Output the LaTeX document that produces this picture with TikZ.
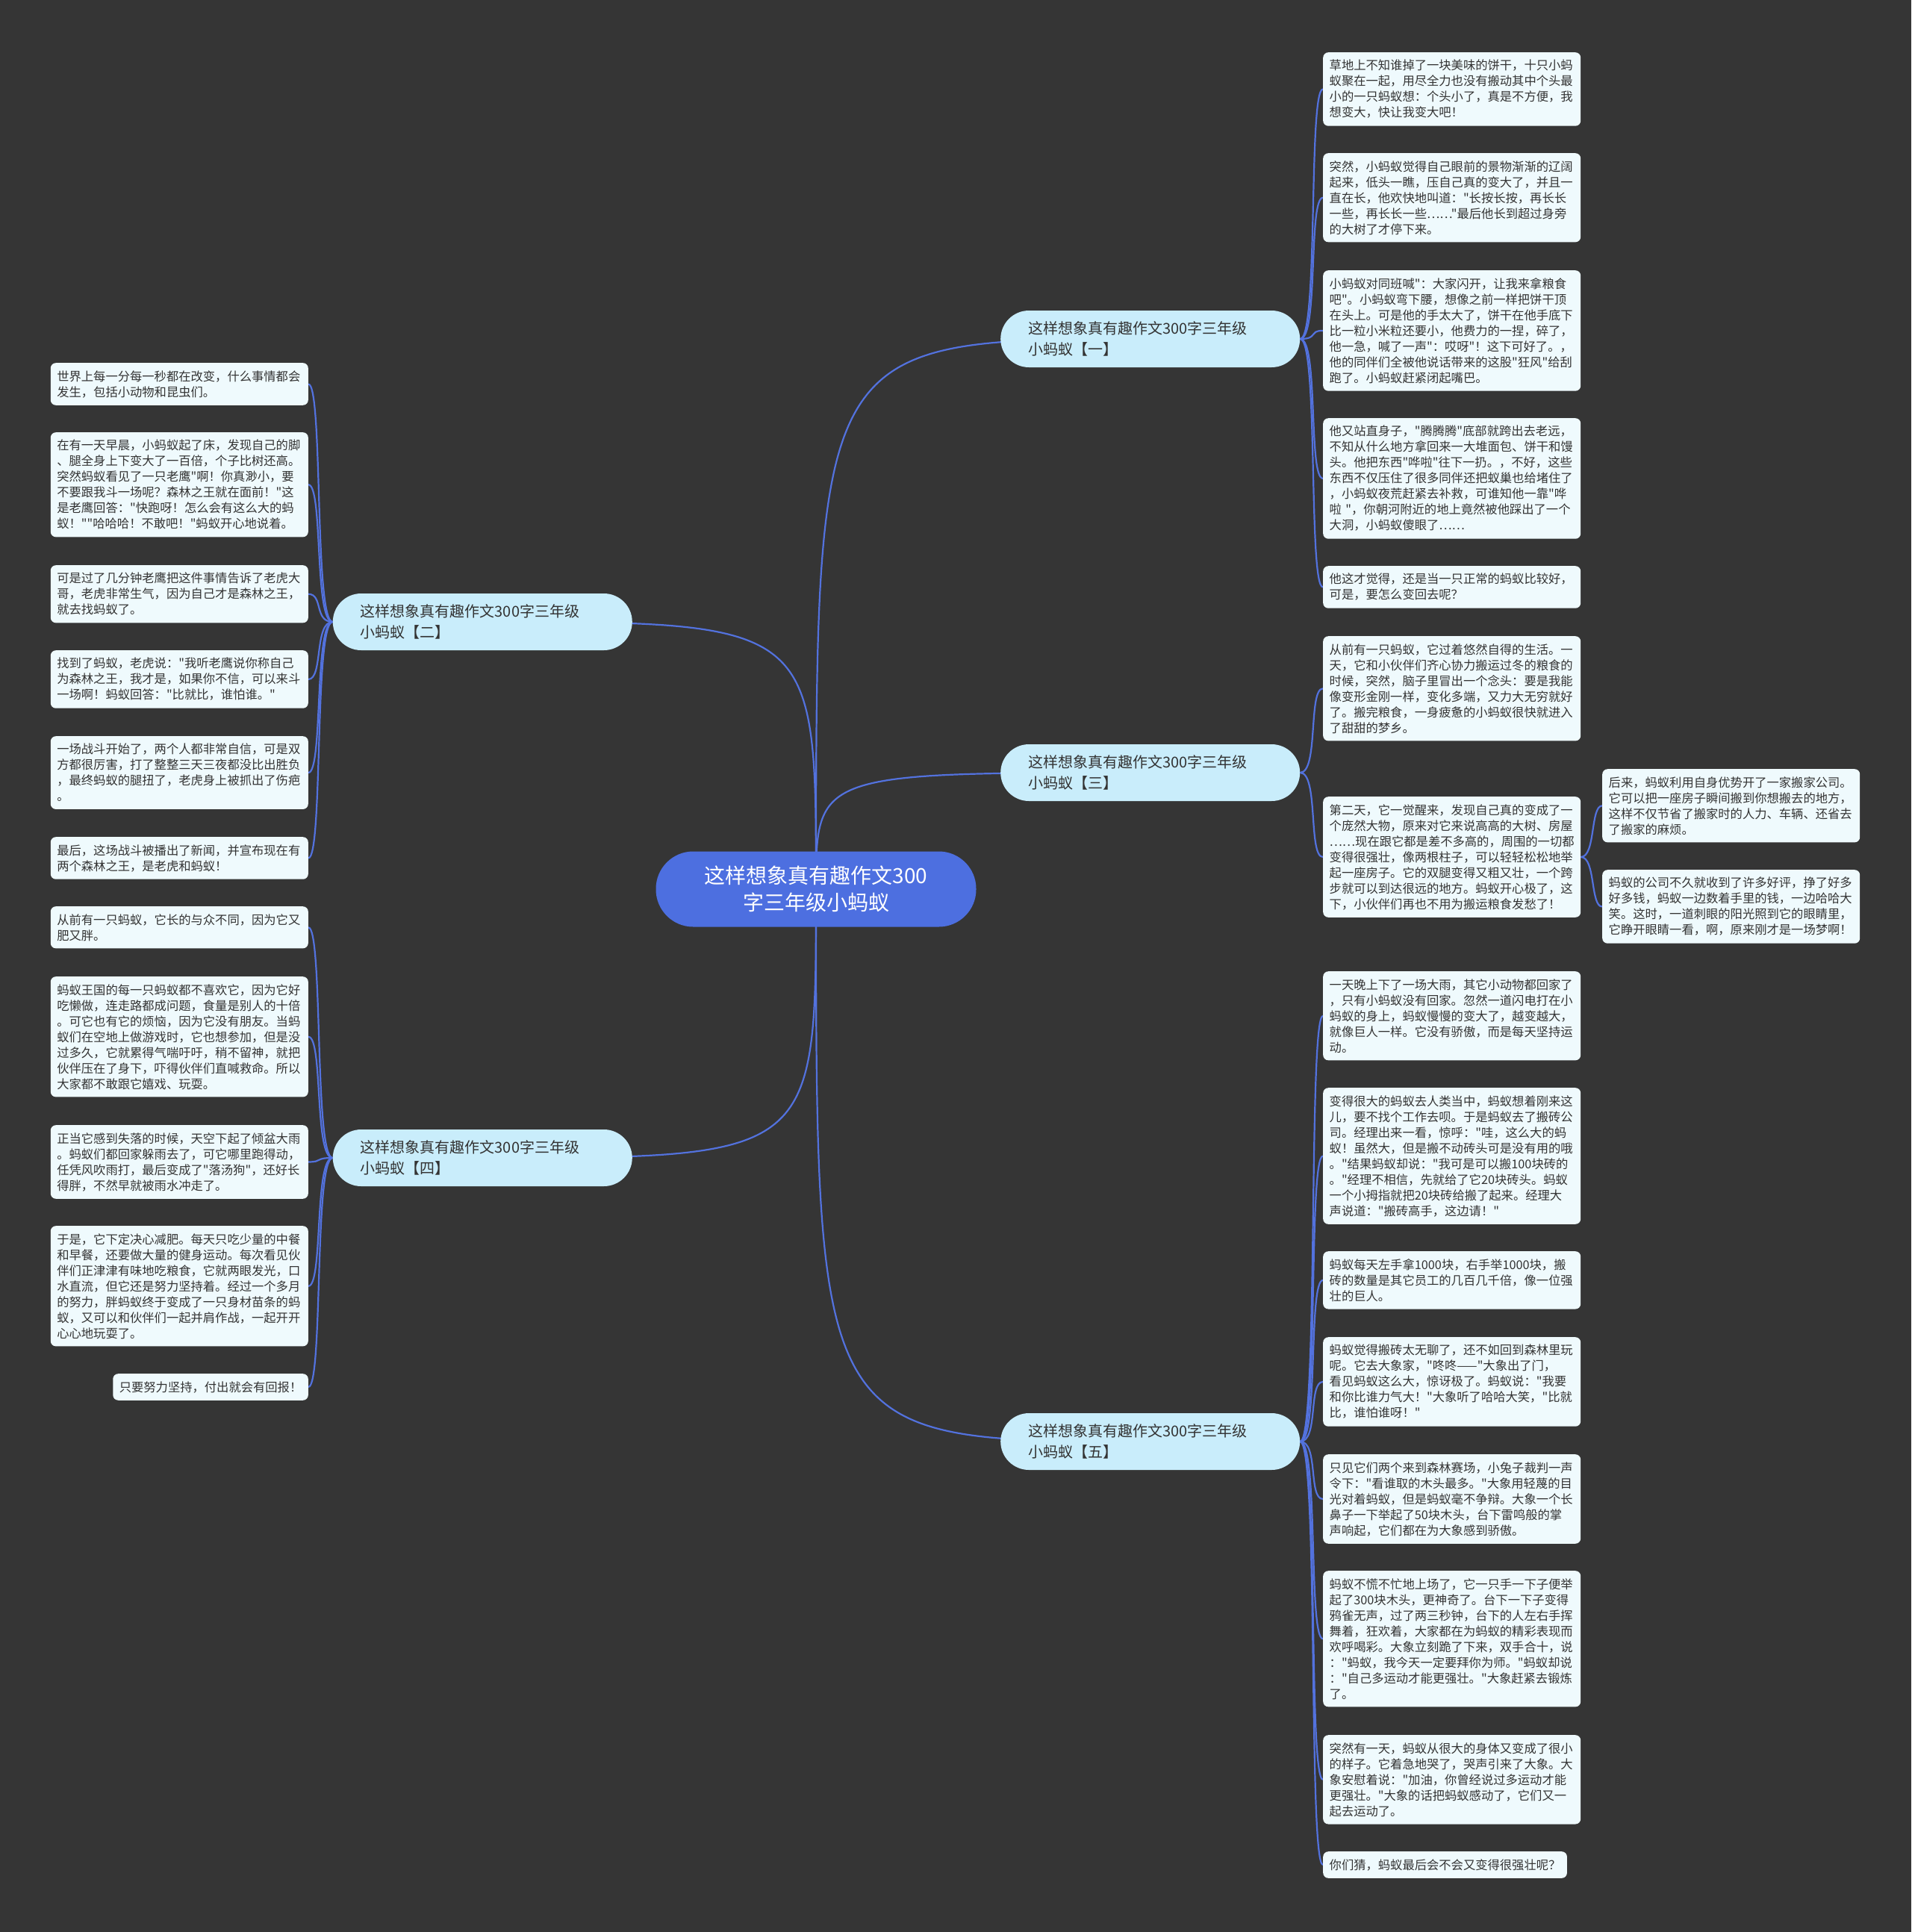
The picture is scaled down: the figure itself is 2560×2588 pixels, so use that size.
\documentclass[tikz,border=0pt]{standalone}
\usepackage{fontspec}
\setmainfont{Noto Sans CJK SC}[Ligatures=TeXOff]
\pgfdeclarelayer{bg}
\pgfdeclarelayer{lines}
\pgfsetlayers{bg,lines,main}
\definecolor{bgc}{HTML}{353535}
\definecolor{leaffill}{HTML}{EFFAFD}
\definecolor{branchfill}{HTML}{C9EDFB}
\definecolor{rootfill}{HTML}{4D6FE0}
\definecolor{linkc}{HTML}{5372DE}
\definecolor{textc}{HTML}{333333}
\tikzset{
  leafbase/.style={fill=leaffill, rounded corners=7pt, text=textc,
    font=\fontsize{16.3}{21}\selectfont, inner xsep=8.5pt, inner ysep=10pt, align=left},
  leaf/.style={leafbase, text width=328pt},
  branch/.style={fill=branchfill, rounded corners=38pt, minimum height=76pt,
    text width=327pt, inner xsep=37pt, align=left, text=textc,
    font=\fontsize{20}{28}\selectfont},
  root/.style={fill=rootfill, rounded corners=50pt, minimum width=429pt,
    minimum height=101pt, align=center, text=white,
    font=\fontsize{28}{36}\selectfont},
  link/.style={draw=linkc, line width=2.2pt},
}
\begin{document}
\begin{tikzpicture}[x=1pt,y=-1pt]
\begin{pgfonlayer}{bg}
\fill[bgc] (0,0) rectangle (2560,2588);
\end{pgfonlayer}
\useasboundingbox (0,0) rectangle (2560,2588);

% root
\node[root] (c) at (1093,1191) {这样想象真有趣作文300\\字三年级小蚂蚁};

% branches
\node[branch, anchor=west] (b1) at (1340,454) {这样想象真有趣作文300字三年级\\小蚂蚁【一】};
\node[branch, anchor=west] (b3) at (1340,1035) {这样想象真有趣作文300字三年级\\小蚂蚁【三】};
\node[branch, anchor=west] (b5) at (1340,1931) {这样想象真有趣作文300字三年级\\小蚂蚁【五】};
\node[branch, anchor=east] (b2) at (847,833) {这样想象真有趣作文300字三年级\\小蚂蚁【二】};
\node[branch, anchor=east] (b4) at (847,1551) {这样想象真有趣作文300字三年级\\小蚂蚁【四】};

% branch 一 leaves
\node[leaf, anchor=north west] (r1) at (1772,70) {草地上不知谁掉了一块美味的饼干，十只小蚂\\蚁聚在一起，用尽全力也没有搬动其中个头最\\小的一只蚂蚁想：个头小了，真是不方便，我\\想变大，快让我变大吧！};
\node[leaf, anchor=north west] (r2) at (1772,205) {突然，小蚂蚁觉得自己眼前的景物渐渐的辽阔\\起来，低头一瞧，压自己真的变大了，并且一\\直在长，他欢快地叫道："长按长按，再长长\\一些，再长长一些……"最后他长到超过身旁\\的大树了才停下来。};
\node[leaf, anchor=north west] (r3) at (1772,362) {小蚂蚁对同班喊"：大家闪开，让我来拿粮食\\吧"。小蚂蚁弯下腰，想像之前一样把饼干顶\\在头上。可是他的手太大了，饼干在他手底下\\比一粒小米粒还要小，他费力的一捏，碎了，\\他一急，喊了一声"：哎呀"！这下可好了。，\\他的同伴们全被他说话带来的这股"狂风"给刮\\跑了。小蚂蚁赶紧闭起嘴巴。};
\node[leaf, anchor=north west] (r4) at (1772,560) {他又站直身子，"腾腾腾"底部就跨出去老远，\\不知从什么地方拿回来一大堆面包、饼干和馒\\头。他把东西"哗啦"往下一扔。，不好，这些\\东西不仅压住了很多同伴还把蚁巢也给堵住了\\，小蚂蚁夜荒赶紧去补救，可谁知他一靠"哗\\啦\ "，你朝河附近的地上竟然被他踩出了一个\\大洞，小蚂蚁傻眼了……};
\node[leaf, anchor=north west] (r5) at (1772,758) {他这才觉得，还是当一只正常的蚂蚁比较好，\\可是，要怎么变回去呢？};

% branch 三 leaves
\node[leaf, anchor=north west] (r6) at (1772,852) {从前有一只蚂蚁，它过着悠然自得的生活。一\\天，它和小伙伴们齐心协力搬运过冬的粮食的\\时候，突然，脑子里冒出一个念头：要是我能\\像变形金刚一样，变化多端，又力大无穷就好\\了。搬完粮食，一身疲惫的小蚂蚁很快就进入\\了甜甜的梦乡。};
\node[leaf, anchor=north west] (r7) at (1772,1067) {第二天，它一觉醒来，发现自己真的变成了一\\个庞然大物，原来对它来说高高的大树、房屋\\……现在跟它都是差不多高的，周围的一切都\\变得很强壮，像两根柱子，可以轻轻松松地举\\起一座房子。它的双腿变得又粗又壮，一个跨\\步就可以到达很远的地方。蚂蚁开心极了，这\\下，小伙伴们再也不用为搬运粮食发愁了！};
\node[leaf, anchor=north west] (f1) at (2146,1030) {后来，蚂蚁利用自身优势开了一家搬家公司。\\它可以把一座房子瞬间搬到你想搬去的地方，\\这样不仅节省了搬家时的人力、车辆、还省去\\了搬家的麻烦。};
\node[leaf, anchor=north west] (f2) at (2146,1165) {蚂蚁的公司不久就收到了许多好评，挣了好多\\好多钱，蚂蚁一边数着手里的钱，一边哈哈大\\笑。这时，一道刺眼的阳光照到它的眼睛里，\\它睁开眼睛一看，啊，原来刚才是一场梦啊！};

% branch 五 leaves
\node[leaf, anchor=north west] (r8) at (1772,1301) {一天晚上下了一场大雨，其它小动物都回家了\\，只有小蚂蚁没有回家。忽然一道闪电打在小\\蚂蚁的身上，蚂蚁慢慢的变大了，越变越大，\\就像巨人一样。它没有骄傲，而是每天坚持运\\动。};
\node[leaf, anchor=north west] (r9) at (1772,1457) {变得很大的蚂蚁去人类当中，蚂蚁想着刚来这\\儿，要不找个工作去呗。于是蚂蚁去了搬砖公\\司。经理出来一看，惊呼："哇，这么大的蚂\\蚁！虽然大，但是搬不动砖头可是没有用的哦\\。"结果蚂蚁却说："我可是可以搬100块砖的\\。"经理不相信，先就给了它20块砖头。蚂蚁\\一个小拇指就把20块砖给搬了起来。经理大\\声说道："搬砖高手，这边请！"};
\node[leaf, anchor=north west] (r10) at (1772,1676) {蚂蚁每天左手拿1000块，右手举1000块，搬\\砖的数量是其它员工的几百几千倍，像一位强\\壮的巨人。};
\node[leaf, anchor=north west] (r11) at (1772,1791) {蚂蚁觉得搬砖太无聊了，还不如回到森林里玩\\呢。它去大象家，"咚咚——"大象出了门，\\看见蚂蚁这么大，惊讶极了。蚂蚁说："我要\\和你比谁力气大！"大象听了哈哈大笑，"比就\\比，谁怕谁呀！"};
\node[leaf, anchor=north west] (r12) at (1772,1948) {只见它们两个来到森林赛场，小兔子裁判一声\\令下："看谁取的木头最多。"大象用轻蔑的目\\光对着蚂蚁，但是蚂蚁毫不争辩。大象一个长\\鼻子一下举起了50块木头，台下雷鸣般的掌\\声响起，它们都在为大象感到骄傲。};
\node[leaf, anchor=north west] (r13) at (1772,2104) {蚂蚁不慌不忙地上场了，它一只手一下子便举\\起了300块木头，更神奇了。台下一下子变得\\鸦雀无声，过了两三秒钟，台下的人左右手挥\\舞着，狂欢着，大家都在为蚂蚁的精彩表现而\\欢呼喝彩。大象立刻跪了下来，双手合十，说\\："蚂蚁，我今天一定要拜你为师。"蚂蚁却说\\："自己多运动才能更强壮。"大象赶紧去锻炼\\了。};
\node[leaf, anchor=north west] (r14) at (1772,2324) {突然有一天，蚂蚁从很大的身体又变成了很小\\的样子。它着急地哭了，哭声引来了大象。大\\象安慰着说："加油，你曾经说过多运动才能\\更强壮。"大象的话把蚂蚁感动了，它们又一\\起去运动了。};
\node[leafbase, anchor=north west] (r15) at (1772,2480) {你们猜，蚂蚁最后会不会又变得很强壮呢？};

% branch 二 leaves
\node[leaf, anchor=north east] (l1) at (413,486) {世界上每一分每一秒都在改变，什么事情都会\\发生，包括小动物和昆虫们。};
\node[leaf, anchor=north east] (l2) at (413,579) {在有一天早晨，小蚂蚁起了床，发现自己的脚\\、腿全身上下变大了一百倍，个子比树还高。\\突然蚂蚁看见了一只老鹰"啊！你真渺小，要\\不要跟我斗一场呢？森林之王就在面前！"这\\是老鹰回答："快跑呀！怎么会有这么大的蚂\\蚁！""哈哈哈！不敢吧！"蚂蚁开心地说着。};
\node[leaf, anchor=north east] (l3) at (413,757) {可是过了几分钟老鹰把这件事情告诉了老虎大\\哥，老虎非常生气，因为自己才是森林之王，\\就去找蚂蚁了。};
\node[leaf, anchor=north east] (l4) at (413,871) {找到了蚂蚁，老虎说："我听老鹰说你称自己\\为森林之王，我才是，如果你不信，可以来斗\\一场啊！蚂蚁回答："比就比，谁怕谁。"};
\node[leaf, anchor=north east] (l5) at (413,986) {一场战斗开始了，两个人都非常自信，可是双\\方都很厉害，打了整整三天三夜都没比出胜负\\，最终蚂蚁的腿扭了，老虎身上被抓出了伤疤\\。};
\node[leaf, anchor=north east] (l6) at (413,1121) {最后，这场战斗被播出了新闻，并宣布现在有\\两个森林之王，是老虎和蚂蚁！};

% branch 四 leaves
\node[leaf, anchor=north east] (l7) at (413,1214) {从前有一只蚂蚁，它长的与众不同，因为它又\\肥又胖。};
\node[leaf, anchor=north east] (l8) at (413,1308) {蚂蚁王国的每一只蚂蚁都不喜欢它，因为它好\\吃懒做，连走路都成问题，食量是别人的十倍\\。可它也有它的烦恼，因为它没有朋友。当蚂\\蚁们在空地上做游戏时，它也想参加，但是没\\过多久，它就累得气喘吁吁，稍不留神，就把\\伙伴压在了身下，吓得伙伴们直喊救命。所以\\大家都不敢跟它嬉戏、玩耍。};
\node[leaf, anchor=north east] (l9) at (413,1507) {正当它感到失落的时候，天空下起了倾盆大雨\\。蚂蚁们都回家躲雨去了，可它哪里跑得动，\\任凭风吹雨打，最后变成了"落汤狗"，还好长\\得胖，不然早就被雨水冲走了。};
\node[leaf, anchor=north east] (l10) at (413,1642) {于是，它下定决心减肥。每天只吃少量的中餐\\和早餐，还要做大量的健身运动。每次看见伙\\伴们正津津有味地吃粮食，它就两眼发光，口\\水直流，但它还是努力坚持着。经过一个多月\\的努力，胖蚂蚁终于变成了一只身材苗条的蚂\\蚁，又可以和伙伴们一起并肩作战，一起开开\\心心地玩耍了。};
\node[leafbase, anchor=north east] (l11) at (413,1840) {只要努力坚持，付出就会有回报！};

% connectors
\begin{pgfonlayer}{lines}
\foreach \b in {b1,b3,b5,b2,b4}
  \draw[link] (c.center) .. controls (c.center |- \b.center) .. (\b.center);
\foreach \n in {r1,r2,r3,r4,r5}
  \draw[link] (b1.east) .. controls +(25,0) and +(-20,0) .. (\n.west);
\foreach \n in {r6,r7}
  \draw[link] (b3.east) .. controls +(25,0) and +(-20,0) .. (\n.west);
\foreach \n in {f1,f2}
  \draw[link] (r7.east) .. controls +(20,0) and +(-16,0) .. (\n.west);
\foreach \n in {r8,r9,r10,r11,r12,r13,r14,r15}
  \draw[link] (b5.east) .. controls +(25,0) and +(-20,0) .. (\n.west);
\foreach \n in {l1,l2,l3,l4,l5,l6}
  \draw[link] (b2.west) .. controls +(-25,0) and +(20,0) .. (\n.east);
\foreach \n in {l7,l8,l9,l10,l11}
  \draw[link] (b4.west) .. controls +(-25,0) and +(20,0) .. (\n.east);
\end{pgfonlayer}
\end{tikzpicture}
\end{document}
